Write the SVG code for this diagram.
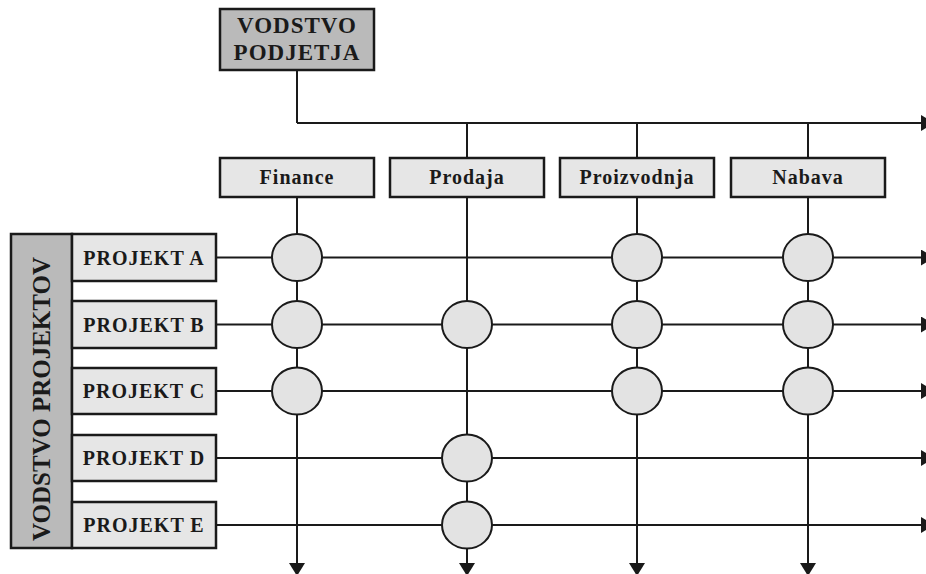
<svg xmlns="http://www.w3.org/2000/svg" width="926" height="574" viewBox="0 0 926 574">
  <defs>
    <style>
      .ln { stroke: #1a1a1a; stroke-width: 2; fill: none; }
      .box { fill: #e6e6e6; stroke: #1a1a1a; stroke-width: 2.5; }
      .dark { fill: #bababa; stroke: #1a1a1a; stroke-width: 2.5; }
      .node { fill: #e3e3e3; stroke: #1a1a1a; stroke-width: 2; }
      .lbl { font-family: "Liberation Serif", "Times New Roman", serif; font-weight: bold; fill: #1a1a1a; text-anchor: middle; }
      .dept { font-size: 20px; letter-spacing: 1px; }
      .proj { font-size: 20px; letter-spacing: 1px; }
      .head { font-size: 23px; letter-spacing: 1px; }
      .arr { fill: #1a1a1a; }
    </style>
    <marker id="ah" viewBox="0 0 13 16" refX="0" refY="8" markerWidth="13" markerHeight="16" markerUnits="userSpaceOnUse" orient="auto">
      <path d="M0,0 L13,8 L0,16 Z" class="arr"/>
    </marker>
  </defs>
  <rect width="926" height="574" fill="#ffffff"/>

  <!-- connectors -->
  <g id="connectors">
    <!-- from top management down to the distribution bus -->
    <line class="ln" x1="297" y1="70" x2="297" y2="123"/>
    <line class="ln" x1="297" y1="123" x2="921" y2="123" marker-end="url(#ah)"/>
    <line class="ln" x1="467" y1="123" x2="467" y2="158"/>
    <line class="ln" x1="637" y1="123" x2="637" y2="158"/>
    <line class="ln" x1="808" y1="123" x2="808" y2="158"/>
    <!-- department columns -->
    <line class="ln" x1="297" y1="197" x2="297" y2="563" marker-end="url(#ah)"/>
    <line class="ln" x1="467" y1="197" x2="467" y2="563" marker-end="url(#ah)"/>
    <line class="ln" x1="637" y1="197" x2="637" y2="563" marker-end="url(#ah)"/>
    <line class="ln" x1="808" y1="197" x2="808" y2="563" marker-end="url(#ah)"/>
    <!-- project rows -->
    <line class="ln" x1="216" y1="257.5" x2="921" y2="257.5" marker-end="url(#ah)"/>
    <line class="ln" x1="216" y1="324.5" x2="921" y2="324.5" marker-end="url(#ah)"/>
    <line class="ln" x1="216" y1="391" x2="921" y2="391" marker-end="url(#ah)"/>
    <line class="ln" x1="216" y1="458" x2="921" y2="458" marker-end="url(#ah)"/>
    <line class="ln" x1="216" y1="525" x2="921" y2="525" marker-end="url(#ah)"/>
  </g>

  <!-- top management -->
  <g id="vodstvo-podjetja">
    <rect class="dark" x="220" y="9" width="154" height="61"/>
    <text class="lbl head" x="297" y="33">VODSTVO</text>
    <text class="lbl head" x="297" y="60">PODJETJA</text>
  </g>

  <!-- departments -->
  <g id="finance">
    <rect class="box" x="220" y="158" width="154" height="39"/>
    <text class="lbl dept" x="297" y="184">Finance</text>
  </g>
  <g id="prodaja">
    <rect class="box" x="390" y="158" width="154" height="39"/>
    <text class="lbl dept" x="467" y="184">Prodaja</text>
  </g>
  <g id="proizvodnja">
    <rect class="box" x="560" y="158" width="154" height="39"/>
    <text class="lbl dept" x="637" y="184">Proizvodnja</text>
  </g>
  <g id="nabava">
    <rect class="box" x="731" y="158" width="154" height="39"/>
    <text class="lbl dept" x="808" y="184">Nabava</text>
  </g>

  <!-- project management -->
  <g id="vodstvo-projektov">
    <rect class="dark" x="11" y="234" width="61" height="314"/>
    <text class="lbl" font-size="25" transform="translate(50,399) rotate(-90)">VODSTVO PROJEKTOV</text>
  </g>

  <g id="projekt-a">
    <rect class="box" x="72" y="234" width="144" height="47"/>
    <text class="lbl proj" x="144" y="265">PROJEKT A</text>
  </g>
  <g id="projekt-b">
    <rect class="box" x="72" y="301" width="144" height="47"/>
    <text class="lbl proj" x="144" y="332">PROJEKT B</text>
  </g>
  <g id="projekt-c">
    <rect class="box" x="72" y="368" width="144" height="46"/>
    <text class="lbl proj" x="144" y="398">PROJEKT C</text>
  </g>
  <g id="projekt-d">
    <rect class="box" x="72" y="435" width="144" height="46"/>
    <text class="lbl proj" x="144" y="465">PROJEKT D</text>
  </g>
  <g id="projekt-e">
    <rect class="box" x="72" y="502" width="144" height="46"/>
    <text class="lbl proj" x="144" y="532">PROJEKT E</text>
  </g>

  <!-- involvement nodes -->
  <g id="a-finance"><ellipse class="node" cx="297" cy="257.5" rx="25" ry="23.5"/></g>
  <g id="a-proizvodnja"><ellipse class="node" cx="637" cy="257.5" rx="25" ry="23.5"/></g>
  <g id="a-nabava"><ellipse class="node" cx="808" cy="257.5" rx="25" ry="23.5"/></g>
  <g id="b-finance"><ellipse class="node" cx="297" cy="324.5" rx="25" ry="23.5"/></g>
  <g id="b-prodaja"><ellipse class="node" cx="467" cy="324.5" rx="25" ry="23.5"/></g>
  <g id="b-proizvodnja"><ellipse class="node" cx="637" cy="324.5" rx="25" ry="23.5"/></g>
  <g id="b-nabava"><ellipse class="node" cx="808" cy="324.5" rx="25" ry="23.5"/></g>
  <g id="c-finance"><ellipse class="node" cx="297" cy="391" rx="25" ry="23.5"/></g>
  <g id="c-proizvodnja"><ellipse class="node" cx="637" cy="391" rx="25" ry="23.5"/></g>
  <g id="c-nabava"><ellipse class="node" cx="808" cy="391" rx="25" ry="23.5"/></g>
  <g id="d-prodaja"><ellipse class="node" cx="467" cy="458" rx="25" ry="23.5"/></g>
  <g id="e-prodaja"><ellipse class="node" cx="467" cy="525" rx="25" ry="23.5"/></g>
</svg>
